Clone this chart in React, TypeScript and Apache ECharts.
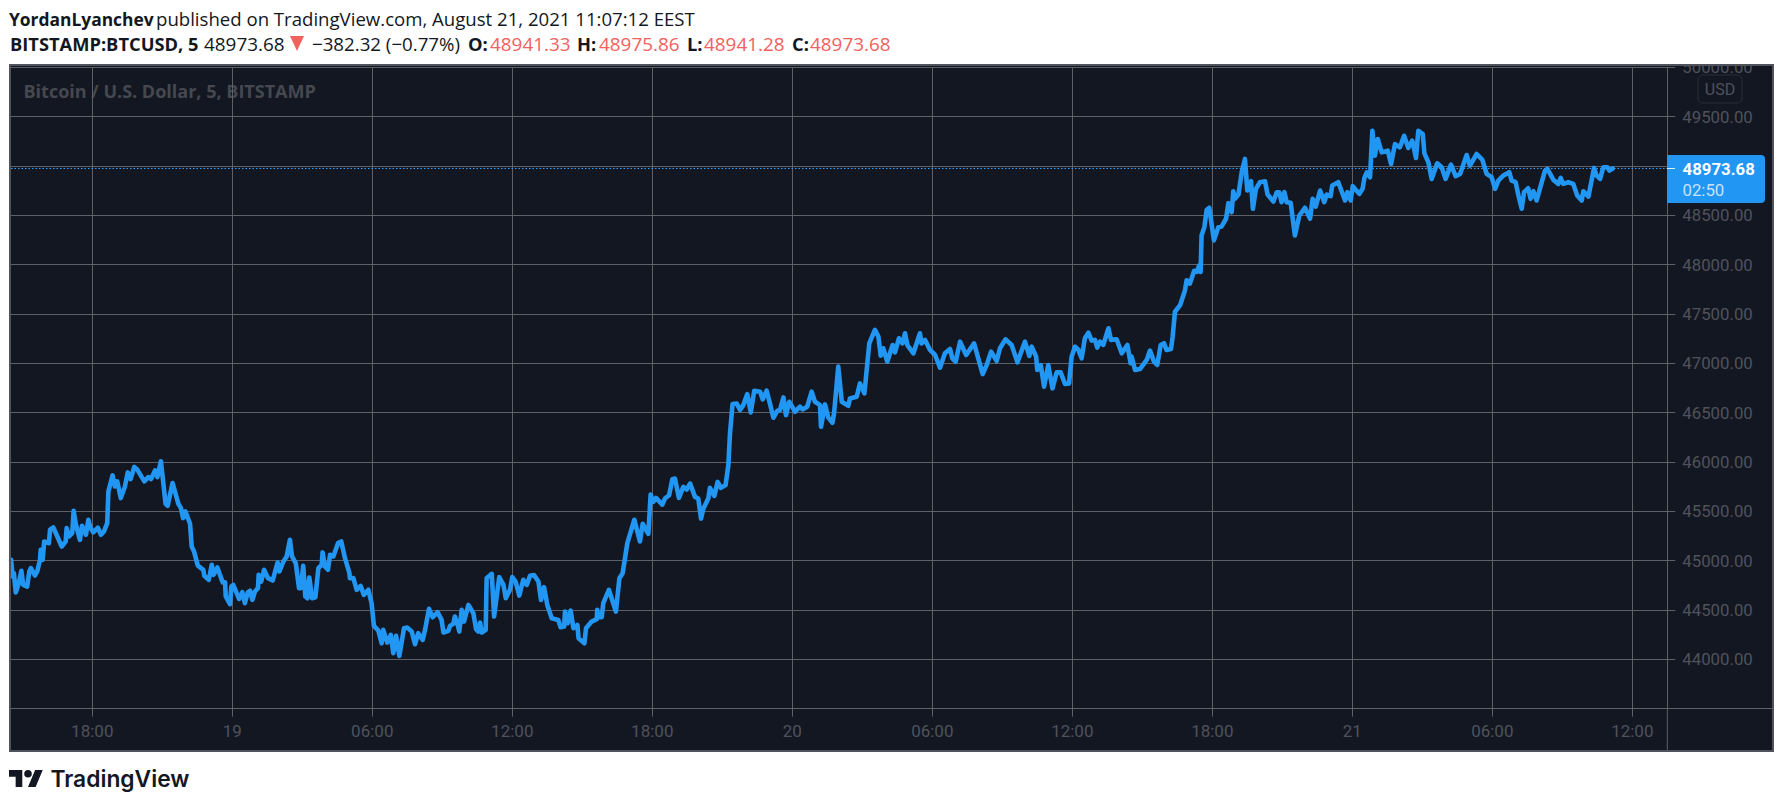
import { useEffect, useRef } from "react";
import * as echarts from "echarts";

// hours counted from Aug 18 00:00, 5-minute closes at each turning point
const hours = [
  14.52, 14.59, 14.64, 14.72, 14.83, 14.96, 15.04, 15.21, 15.3, 15.37, 15.54, 15.64, 15.76, 15.79, 15.87, 15.94, 16.14, 16.19, 16.33, 16.69,
  16.86, 16.9, 17.0, 17.14, 17.2, 17.3, 17.47, 17.56, 17.73, 17.83, 17.93, 18.04, 18.24, 18.37, 18.5, 18.64, 18.69, 18.87, 18.97, 19.07,
  19.22, 19.4, 19.52, 19.64, 19.8, 19.93, 20.23, 20.4, 20.52, 20.69, 20.79, 20.94, 21.02, 21.14, 21.23, 21.44, 21.69, 21.8, 21.89, 21.99,
  22.19, 22.26, 22.36, 22.52, 22.66, 22.76, 22.8, 22.99, 23.12, 23.2, 23.36, 23.59, 23.69, 23.72, 23.9, 23.96, 24.04, 24.29, 24.43, 24.54,
  24.66, 24.76, 24.86, 24.97, 25.1, 25.13, 25.24, 25.36, 25.53, 25.73, 25.94, 26.02, 26.19, 26.33, 26.47, 26.56, 26.72, 26.86, 26.94, 27.04,
  27.13, 27.22, 27.3, 27.42, 27.56, 27.69, 27.83, 27.87, 27.97, 28.1, 28.19, 28.33, 28.53, 28.67, 28.83, 29.02, 29.04, 29.19, 29.33, 29.5,
  29.64, 29.83, 29.97, 30.07, 30.26, 30.4, 30.47, 30.64, 30.79, 30.9, 31.02, 31.16, 31.36, 31.5, 31.69, 31.83, 31.97,
  32.16, 32.26, 32.43, 32.59, 32.8, 32.97, 33.05, 33.26, 33.33, 33.47, 33.54, 33.64, 33.73, 33.83, 33.93, 34.12, 34.33, 34.45, 34.54, 34.62,
  34.69, 34.86, 34.9, 35.12, 35.22, 35.44, 35.62, 35.72, 35.9, 36.0, 36.14, 36.3, 36.47, 36.62, 36.76, 36.93, 37.12, 37.23, 37.36, 37.5,
  37.69, 37.97, 38.07, 38.22, 38.26, 38.37, 38.5, 38.62, 38.79, 38.84, 39.09, 39.16, 39.4, 39.62, 39.64, 39.69, 39.83, 39.9, 40.14, 40.44,
  40.59, 40.73, 40.93, 41.23, 41.47, 41.59, 41.83,
  41.93, 42.04, 42.16, 42.43, 42.54, 42.72, 42.86, 42.97, 43.14, 43.33, 43.47, 43.62, 43.83, 43.97, 44.09, 44.19, 44.4, 44.47, 44.66, 44.8,
  44.94, 45.14, 45.26, 45.33, 45.44, 45.62, 45.76, 45.9, 46.07, 46.22, 46.37, 46.62, 46.73, 46.9, 47.04, 47.19, 47.36, 47.47, 47.62, 47.73,
  47.87, 48.12, 48.33, 48.44, 48.64, 48.83, 48.97, 49.19, 49.23, 49.4, 49.54, 49.72, 49.79, 49.97, 50.12, 50.4, 50.47, 50.76, 50.9, 51.09,
  51.3, 51.54, 51.69, 51.79, 51.9, 52.07, 52.3, 52.4, 52.57, 52.72, 52.83, 52.93, 53.19, 53.47, 53.54, 53.69, 53.9, 54.12, 54.33, 54.54,
  54.76, 54.86, 55.0, 55.19, 55.45, 55.79, 56.16, 56.33, 56.52, 56.76, 56.9, 57.14, 57.4, 57.65, 57.97, 58.16, 58.26, 58.45, 58.5, 58.65,
  58.79, 58.97, 59.15, 59.33, 59.5, 59.69, 59.86, 59.97, 60.12,
  60.26, 60.4, 60.54, 60.69, 60.83, 60.97, 61.07, 61.19, 61.33, 61.55, 61.66, 61.9, 62.12, 62.36, 62.5, 62.54, 62.69, 62.9, 63.19, 63.33,
  63.5, 63.64, 63.79, 63.93, 64.04, 64.23,
  64.3, 64.4, 64.62, 64.83, 64.9, 65.04, 65.22, 65.33, 65.44, 65.5, 65.54, 65.66, 65.76, 65.87, 66.07, 66.26, 66.4, 66.59, 66.69, 66.83,
  66.9, 66.97, 67.12, 67.26, 67.4, 67.5, 67.66, 67.74, 67.87, 68.04, 68.26, 68.37, 68.62, 68.76, 68.87, 68.97, 69.09, 69.19, 69.36, 69.54,
  69.73, 69.97, 70.19, 70.3, 70.43, 70.62, 70.8, 70.9, 71.07, 71.14, 71.4, 71.69, 71.79, 71.93, 72.02, 72.3, 72.44, 72.52, 72.62, 72.76,
  72.86, 72.97, 73.09, 73.26, 73.52, 73.66, 73.83, 74.04, 74.22, 74.4, 74.57, 74.73, 74.83, 75.02, 75.09, 75.26, 75.4, 75.64, 75.83, 76.0,
  76.23, 76.43, 76.62, 76.9, 77.04, 77.33, 77.57, 77.76, 77.97, 78.12, 78.26, 78.47, 78.73, 78.83, 79.0, 79.12, 79.26, 79.36, 79.54, 79.64,
  79.76, 79.9, 80.12, 80.26, 80.36, 80.62, 80.83, 80.93, 81.04, 81.26, 81.47, 81.64, 81.83, 81.9, 82.12, 82.36, 82.47, 82.62, 82.76, 82.93,
  83.02, 83.16,
];
const prices = [
  45008, 44839, 44873, 44677, 44754, 44896, 44754, 44737, 44890, 44924, 44849, 44890, 45008, 45110, 45008, 45194, 45177, 45313, 45336, 45143,
  45194, 45330, 45245, 45279, 45505, 45363, 45211, 45353, 45262, 45414, 45330, 45286, 45333, 45262, 45296, 45380, 45702, 45864, 45752, 45803,
  45634, 45752, 45894, 45827, 45949, 45922, 45803, 45847, 45827, 45915, 45847, 46006, 45837, 45576, 45556, 45786, 45576, 45532, 45431, 45499,
  45373, 45143, 45093, 44951, 44924, 44907, 44846, 44805, 44957, 44856, 44930, 44778, 44781, 44636, 44558, 44737, 44754, 44612, 44680, 44568,
  44677, 44694, 44602, 44687, 44721, 44856, 44788, 44907, 44822, 44798, 44981, 44890, 44991, 45042, 45211, 45042, 44974, 44721, 44721, 44947,
  44636, 44619, 44829, 44619, 44629, 44924, 44957, 45083, 44940, 44907, 45059, 45042, 45177, 45194, 45025, 44873, 44822, 44822, 44704, 44744,
  44653, 44704, 44568, 44338, 44291, 44162, 44298, 44169, 44247, 44061, 44237, 44034, 44315, 44321, 44281, 44152, 44264,
  44196, 44298, 44511, 44426, 44477, 44399, 44271, 44288, 44338, 44359, 44433, 44365, 44281, 44501, 44382, 44551, 44467, 44304, 44281, 44372,
  44271, 44298, 44822, 44866, 44433, 44832, 44754, 44619, 44704, 44832, 44788, 44646, 44805, 44754, 44846, 44853, 44788, 44602, 44731, 44551,
  44416, 44399, 44325, 44332, 44484, 44365, 44494, 44315, 44348, 44213, 44162, 44315, 44382, 44406, 44501, 44426, 44426, 44568, 44704, 44484,
  44822, 44873, 45177, 45414, 45194, 45373, 45272,
  45670, 45595, 45636, 45568, 45629, 45663, 45825, 45832, 45636, 45748, 45721, 45781, 45646, 45629, 45426, 45528, 45629, 45737, 45656, 45798,
  45737, 45765, 45968, 46289, 46587, 46593, 46526, 46576, 46688, 46502, 46722, 46712, 46634, 46722, 46593, 46448, 46519, 46526, 46654, 46475,
  46610, 46509, 46560, 46532, 46560, 46712, 46610, 46576, 46357, 46583, 46451, 46397, 46492, 46966, 46610, 46570, 46644, 46661, 46796, 46695,
  47202, 47338, 47270, 47077, 47152, 47016, 47185, 47111, 47253, 47202, 47304, 47185, 47101, 47304, 47202, 47236, 47135, 47084, 46955, 47101,
  47145, 47050, 47016, 47219, 47084, 47202, 46891, 46982, 47118, 47023, 47152, 47243, 47185, 47010, 47219, 47074, 47169, 47067, 46932, 46982,
  46763, 46982, 46746, 46908, 46908, 46790, 46796, 47067, 47169,
  47135, 47051, 47254, 47311, 47230, 47237, 47159, 47220, 47186, 47355, 47237, 47244, 47101, 47186, 47000, 47068, 46932, 46942, 47034, 47129,
  47017, 46983, 47186, 47203, 47135, 47145,
  47269, 47522, 47589, 47741, 47842, 47808, 47936, 47926, 47993, 47926, 48296, 48380, 48556, 48576, 48246, 48380, 48387, 48465, 48623, 48532,
  48744, 48667, 48710, 48936, 49071, 48751, 48845, 48566, 48768, 48835, 48845, 48710, 48640, 48734, 48734, 48633, 48734, 48633, 48626, 48296,
  48498, 48576, 48465, 48667, 48589, 48751, 48633, 48710, 48694, 48801, 48835, 48650, 48734, 48650, 48795, 48717, 48768, 48879, 48936, 48886,
  49357, 49104, 49273, 49138, 49155, 49020, 49222, 49189, 49306, 49182, 49256, 49081, 49357, 49323, 49128, 49037, 48869, 49027, 48987, 48869,
  49013, 48896, 48919, 49111, 49003, 49121, 49064, 48919, 48886, 48768, 48852, 48902, 48936, 48852, 48835, 48700, 48566, 48734, 48774, 48667,
  48744, 48650, 48835, 48953, 48970, 48859, 48818, 48879, 48818, 48835, 48818, 48700, 48650, 48744, 48690, 48980, 48902, 48869, 48987, 48987,
  48953, 48973.68,
];
const lastPrice = 48973.68;
const tickHours = [18, 24, 30, 36, 42, 48, 54, 60, 66, 72, 78, 84];
const tickLabels = ["18:00", "19", "06:00", "12:00", "18:00", "20", "06:00", "12:00", "18:00", "21", "06:00", "12:00"];

const GRID_TEXT = "#4f525c";
const GRID_LINE = "#5e5f67";
const BLUE = "#2196f3";
const RED = "#f0625e";
const INK = "#131722";

echarts.graphic.registerShape(
  "tvLogo",
  echarts.graphic.extendPath("M14 22H7V11H0V4h14v18zM28 22h-8l7.5-18h8L28 22zM24 8a4 4 0 1 1-8 0a4 4 0 1 1 8 0z", {})
);

function headText(text: string, x: number, y: number, fill: string, weight = 400, size = 18.7) {
  return {
    type: "text",
    x,
    y,
    z: 11,
    style: { text, fill, font: `${weight} ${size}px "Open Sans"`, verticalAlign: "middle" },
  };
}

const options: any = {
  animation: false,
  grid: { left: 11, top: 67.3, width: 1656.3, height: 641.3 },
  xAxis: {
    type: "value",
    min: 14.516,
    max: 85.5,
    axisLine: { show: true, lineStyle: { color: GRID_LINE } },
    axisTick: { length: 8, lineStyle: { color: GRID_LINE }, customValues: tickHours },
    splitLine: { show: true, lineStyle: { color: GRID_LINE } },
    axisLabel: {
      customValues: tickHours,
      color: GRID_TEXT,
      fontFamily: "Roboto",
      fontSize: 17,
      margin: 14,
      formatter: (v: number) => tickLabels[tickHours.indexOf(v)] ?? "",
    },
  },
  yAxis: {
    type: "value",
    position: "right",
    min: 43500,
    max: 50000,
    interval: 500,
    axisLine: { show: true, lineStyle: { color: GRID_LINE } },
    axisTick: { show: true, length: 8, lineStyle: { color: GRID_LINE } },
    splitLine: { show: true, lineStyle: { color: GRID_LINE } },
    axisLabel: {
      color: GRID_TEXT,
      fontFamily: "Roboto",
      fontSize: 16.8,
      margin: 15,
      formatter: (v: number) => (v === 43500 ? "" : v.toFixed(2)),
    },
  },
  series: [
    {
      type: "line",
      data: hours.map((h, i) => [h, prices[i]]),
      showSymbol: false,
      lineStyle: { color: BLUE, width: 4.6, join: "round", cap: "round" },
      markLine: {
        silent: true,
        symbol: "none",
        label: { show: false },
        lineStyle: { color: "#2ba0ff", type: [1.5, 2], width: 1.2 },
        data: [{ yAxis: lastPrice }],
      },
    },
  ],
  graphic: [
    // panel behind the axes
    { type: "rect", z: -2, shape: { x: 10, y: 65, width: 1763, height: 686 }, style: { fill: INK } },
    {
      type: "text",
      x: 23.5,
      y: 90.5,
      z: -1,
      style: { text: "Bitcoin / U.S. Dollar, 5, BITSTAMP", fill: "#45484f", font: '700 18px "Open Sans"', verticalAlign: "middle" },
    },
    // time axis and price axis borders run on to the frame
    { type: "line", z: 1, shape: { x1: 1667.3, y1: 708.5, x2: 1667.3, y2: 751 }, style: { stroke: GRID_LINE, lineWidth: 1 } },
    { type: "line", z: 1, shape: { x1: 1667.3, y1: 708.5, x2: 1773, y2: 708.5 }, style: { stroke: GRID_LINE, lineWidth: 1 } },
    // white strip hides the top half of the 50000 label, as in the screenshot
    { type: "rect", z: 10, shape: { x: 0, y: 0, width: 1783, height: 64 }, style: { fill: "#ffffff" } },
    { type: "rect", z: 10, shape: { x: 10, y: 65, width: 1763, height: 686 }, style: { fill: "none", stroke: "#50535e", lineWidth: 2 } },
    // USD button
    { type: "rect", z: 5, shape: { x: 1698, y: 75, width: 44, height: 28, r: 5 }, style: { fill: INK, stroke: "#2a2e39", lineWidth: 1 } },
    { type: "text", x: 1720, y: 89.5, z: 6, style: { text: "USD", fill: GRID_TEXT, font: '16px "Roboto"', align: "center", verticalAlign: "middle" } },
    // last price tag
    { type: "rect", z: 5, shape: { x: 1667, y: 155, width: 98, height: 48, r: [0, 4, 4, 0] }, style: { fill: BLUE } },
    { type: "line", z: 6, shape: { x1: 1667, y1: 168.5, x2: 1675, y2: 168.5 }, style: { stroke: "#d9eefd", lineWidth: 1 } },
    { type: "text", x: 1682.5, y: 169, z: 6, style: { text: "48973.68", fill: "#ffffff", font: '700 16.8px "Roboto"', verticalAlign: "middle" } },
    { type: "text", x: 1682.5, y: 190, z: 6, style: { text: "02:50", fill: "#c6e4fc", font: '16.8px "Roboto"', verticalAlign: "middle" } },
    // header
    headText("YordanLyanchev", 9, 18.5, INK, 700, 17.4),
    headText("published on TradingView.com, August 21, 2021 11:07:12 EEST", 156, 18.5, INK, 400, 18.6),
    headText("BITSTAMP:BTCUSD, 5", 10, 43.5, INK, 700, 18.3),
    headText("48973.68", 204, 43.5, INK, 400, 18.9),
    { type: "polygon", z: 11, shape: { points: [[290, 36], [304, 36], [297, 51]] }, style: { fill: RED } },
    headText("−382.32 (−0.77%)", 312, 43.5, INK),
    headText("O:", 468, 43.5, INK, 700, 18.3),
    headText("48941.33", 490, 43.5, RED, 400, 18.9),
    headText("H:", 577, 43.5, INK, 700, 18.3),
    headText("48975.86", 599, 43.5, RED, 400, 18.9),
    headText("L:", 687, 43.5, INK, 700, 18.3),
    headText("48941.28", 704, 43.5, RED, 400, 18.9),
    headText("C:", 792, 43.5, INK, 700, 18.3),
    headText("48973.68", 810, 43.5, RED, 400, 18.9),
    // footer logo
    { type: "tvLogo", x: 9, y: 766.2, scaleX: 0.95, scaleY: 0.95, z: 11, style: { fill: INK } },
    { type: "text", x: 50.5, y: 778, z: 11, style: { text: "TradingView", fill: INK, font: '600 22.8px "Inter"', verticalAlign: "middle" } },
  ],
};

function Chart() {
  const chartRef = useRef<HTMLDivElement>(null);
  useEffect(() => {
    const chart = echarts.init(chartRef.current, null, { renderer: "svg" });
    chart.setOption(options);
    return () => {
      chart.dispose();
    };
  }, []);
  return <div ref={chartRef} style={{ position: "fixed", left: 0, top: 0, width: 1783, height: 806, background: "#ffffff" }} />;
}

export default function App() {
  return <Chart />;
}
